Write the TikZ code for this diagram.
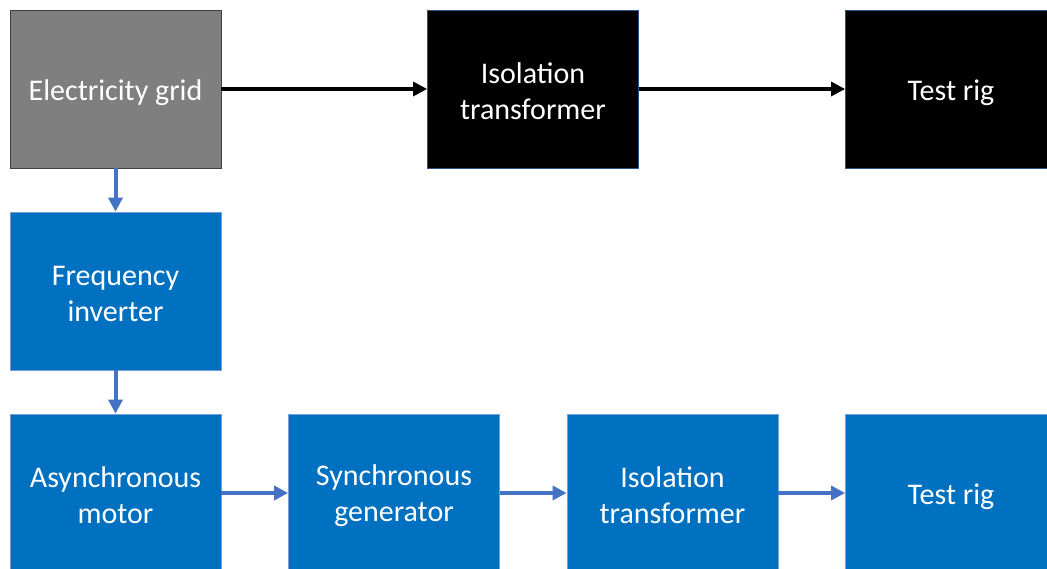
\documentclass[tikz,border=0pt]{standalone}
\usepackage{fontspec}
\setmainfont{Carlito}
\usetikzlibrary{arrows.meta}
\definecolor{boxblue}{HTML}{0070C0}
\definecolor{arrblue}{HTML}{4472C4}
\definecolor{edgeblue}{HTML}{2F528F}
\definecolor{gridgray}{HTML}{7F7F7F}
\begin{document}
\begin{tikzpicture}[x=1pt,y=-1pt,
  blk/.style={rectangle,minimum width=211pt,minimum height=158pt,inner sep=0pt,line width=0.8pt},
  lbl/.style={text=white,align=center,font=\fontsize{30}{36}\selectfont,inner sep=0pt,yshift=-2.5pt},
  lblone/.style={lbl,yshift=-1.5pt},
  bluebox/.style={blk,fill=boxblue,draw=arrblue!70!white},
  blackbox/.style={blk,fill=black,draw=edgeblue},
  graybox/.style={blk,fill=gridgray,draw=black!75},
  blackarr/.style={line width=3.2pt,-{Triangle[length=14pt,width=14pt]}},
  bluearr/.style={line width=4pt,draw=arrblue,-{Triangle[length=14pt,width=14pt]}}]
\useasboundingbox (0,0) rectangle (1047,569);
\clip (0,0) rectangle (1047,569);
\node[graybox,label={[lblone]center:Electricity grid}] (grid) at (115.5,89) {};
\node[blackbox,label={[lbl]center:{Isolation\\transformer}}] (it1) at (533,89) {};
\node[blackbox,label={[lblone]center:Test rig}] (tr1) at (951,89) {};
\node[bluebox,label={[lbl]center:{Frequency\\inverter}}] (fi) at (115.5,291) {};
\node[bluebox,label={[lbl]center:{Asynchronous\\motor}}] (am) at (115.5,493) {};
\node[bluebox,label={[lbl]center:{Synchronous\\generator}}] (sg) at (394,493) {};
\node[bluebox,label={[lbl]center:{Isolation\\transformer}}] (it2) at (672.5,493) {};
\node[bluebox,label={[lblone]center:Test rig}] (tr2) at (951,493) {};
\draw[blackarr] (grid) -- (it1);
\draw[blackarr] (it1) -- (tr1);
\draw[bluearr] (grid) -- (fi);
\draw[bluearr] (fi) -- (am);
\draw[bluearr] (am) -- (sg);
\draw[bluearr] (sg) -- (it2);
\draw[bluearr] (it2) -- (tr2);
\end{tikzpicture}
\end{document}
